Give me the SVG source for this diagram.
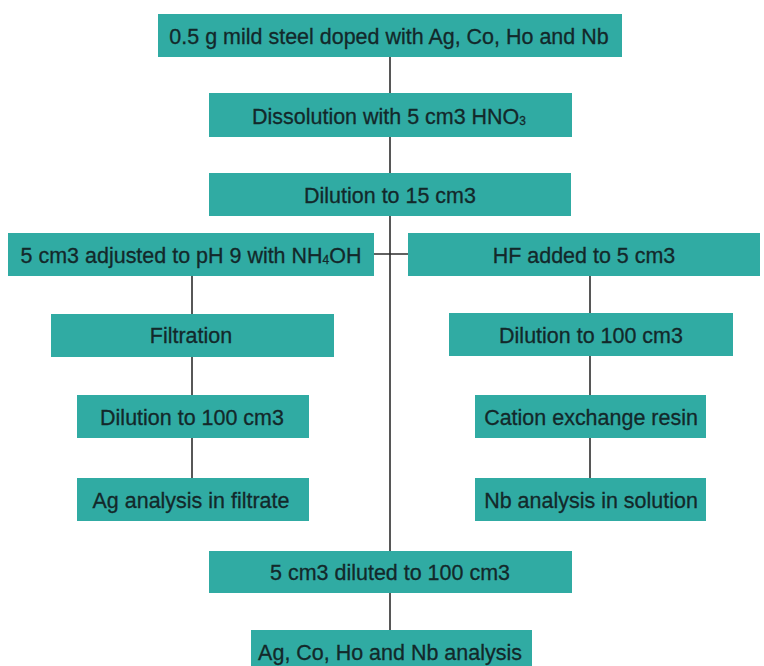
<svg xmlns="http://www.w3.org/2000/svg" width="764" height="666" viewBox="0 0 764 666">
<style>
.box{fill:#30aba3;}
.t{font-family:"Liberation Sans",Arial,sans-serif;font-size:22.5px;fill:#13282a;stroke:#13282a;stroke-width:0.3;text-anchor:middle;}
.sub{font-size:12.5px;}
.c{stroke:#2d2d2d;stroke-width:1.6;fill:none;}
</style>
<rect width="764" height="666" fill="#ffffff"/>
<g id="connectors">
<line class="c" x1="390" y1="57" x2="390" y2="93"/>
<line class="c" x1="390" y1="137" x2="390" y2="173"/>
<line class="c" x1="390" y1="216" x2="390" y2="551"/>
<line class="c" x1="390" y1="593" x2="390" y2="630"/>
<line class="c" x1="374" y1="254" x2="408" y2="254"/>
<line class="c" x1="192" y1="276" x2="192" y2="314"/>
<line class="c" x1="192" y1="357" x2="192" y2="395"/>
<line class="c" x1="192" y1="438" x2="192" y2="478"/>
<line class="c" x1="590" y1="276" x2="590" y2="313"/>
<line class="c" x1="590" y1="356" x2="590" y2="395"/>
<line class="c" x1="590" y1="438" x2="590" y2="478"/>
</g>
<g id="n1"><rect class="box" x="158" y="14" width="464" height="43"/><text class="t" transform="translate(389 44) scale(0.955 1)">0.5 g mild steel doped with Ag, Co, Ho and Nb</text></g>
<g id="n2"><rect class="box" x="209" y="93" width="363" height="44"/><text class="t" transform="translate(389 124) scale(0.955 1)">Dissolution with 5 cm3 HNO<tspan class="sub" dy="1">3</tspan></text></g>
<g id="n3"><rect class="box" x="209" y="173" width="362" height="43"/><text class="t" transform="translate(390 203) scale(0.955 1)">Dilution to 15 cm3</text></g>
<g id="n4l"><rect class="box" x="8" y="233" width="366" height="43"/><text class="t" transform="translate(191 263) scale(0.955 1)">5 cm3 adjusted to pH 9 with NH<tspan class="sub" dy="1">4</tspan><tspan dy="-1">OH</tspan></text></g>
<g id="n4r"><rect class="box" x="408" y="233" width="352" height="43"/><text class="t" transform="translate(584 263) scale(0.955 1)">HF added to 5 cm3</text></g>
<g id="n5l"><rect class="box" x="51" y="314" width="283" height="43"/><text class="t" transform="translate(191 343) scale(0.955 1)">Filtration</text></g>
<g id="n6l"><rect class="box" x="77" y="395" width="232" height="43"/><text class="t" transform="translate(192 425) scale(0.955 1)">Dilution to 100 cm3</text></g>
<g id="n7l"><rect class="box" x="77" y="478" width="232" height="43"/><text class="t" transform="translate(191 508) scale(0.955 1)">Ag analysis in filtrate</text></g>
<g id="n5r"><rect class="box" x="449" y="313" width="284" height="43"/><text class="t" transform="translate(591 343) scale(0.955 1)">Dilution to 100 cm3</text></g>
<g id="n6r"><rect class="box" x="475" y="395" width="231" height="43"/><text class="t" transform="translate(591 425) scale(0.955 1)">Cation exchange resin</text></g>
<g id="n7r"><rect class="box" x="475" y="478" width="231" height="43"/><text class="t" transform="translate(591 508) scale(0.955 1)">Nb analysis in solution</text></g>
<g id="n8"><rect class="box" x="209" y="551" width="363" height="42"/><text class="t" transform="translate(390 580) scale(0.955 1)">5 cm3 diluted to 100 cm3</text></g>
<g id="n9"><rect class="box" x="251" y="630" width="281" height="44"/><text class="t" transform="translate(390 660) scale(0.955 1)">Ag, Co, Ho and Nb analysis</text></g>
</svg>
